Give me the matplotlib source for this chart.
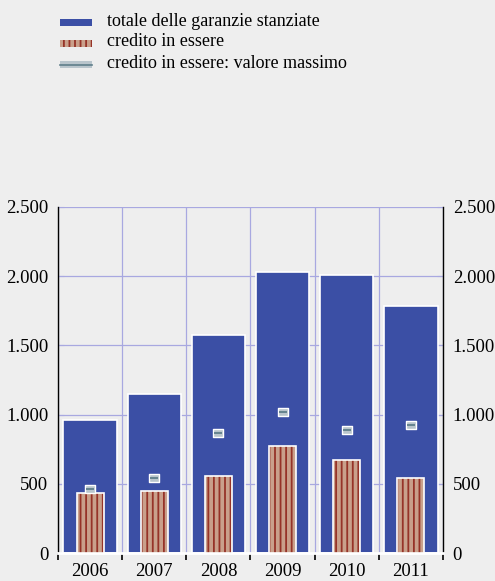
import matplotlib
matplotlib.use("Agg")
import matplotlib.pyplot as plt
from matplotlib.patches import Rectangle
from matplotlib.path import Path
import numpy as np

years = ["2006", "2007", "2008", "2009", "2010", "2011"]
totale = [960, 1150, 1575, 2030, 2010, 1785]
credito = [430, 445, 555, 770, 675, 540]
massimo = [460, 545, 870, 1020, 890, 925]
yticks = [0, 500, 1000, 1500, 2000, 2500]
ylabels = ["0", "500", "1.000", "1.500", "2.000", "2.500"]
legend_labels = ["totale delle garanzie stanziate", "credito in essere",
                 "credito in essere: valore massimo"]

plt.rcParams['font.family'] = ['Liberation Serif', 'DejaVu Serif']
plt.rcParams['hatch.linewidth'] = 1.3

BG = "#eeeeee"
BLUE = "#3b4fa5"
TAN = "#c9a08b"
DRED = "#963328"
GRID = "#a8a8e0"
MK = "#b9c5cc"
MKL = "#5f7f8a"

fig = plt.figure(figsize=(4.95, 5.81), dpi=100, facecolor=BG)
ax = fig.add_axes([58/495, 1-553/581, (443-58)/495, (553-207)/581])
ax.set_facecolor(BG)

x = np.arange(len(years))
ax.bar(x, totale, width=0.83, color=BLUE, edgecolor="white", linewidth=1.2, zorder=2)
ax.bar(x, credito, width=0.42, color=TAN, edgecolor=DRED, hatch="|||", linewidth=0, zorder=3)
ax.bar(x, credito, width=0.42, color="none", edgecolor="white", linewidth=1.2, zorder=4)

rect = Path([(-1, -0.7), (1, -0.7), (1, 0.7), (-1, 0.7), (-1, -0.7)],
            [Path.MOVETO, Path.LINETO, Path.LINETO, Path.LINETO, Path.CLOSEPOLY])
ax.scatter(x, massimo, marker=rect, s=60, facecolor=MK, edgecolor="white", linewidths=1.0, zorder=5)
ax.scatter(x, massimo, marker="_", s=30, color=MKL, linewidths=1.3, zorder=6)

ax.set_xlim(-0.5, len(years) - 0.5)
ax.set_ylim(0, 2500)
ax.set_yticks(yticks)
ax.set_yticklabels(ylabels, fontsize=13.5)
ax.tick_params(axis="y", which="both", left=True, right=True, labelleft=True, labelright=True,
               length=4, color=GRID, direction="in", pad=7)
ax.yaxis.grid(True, color=GRID, linewidth=0.9, zorder=0)

ax.set_xticks(x)
ax.set_xticklabels(years, fontsize=13.5)
ax.tick_params(axis="x", which="major", length=0, pad=7)
ax.set_xticks(np.arange(len(years) + 1) - 0.5, minor=True)
ax.tick_params(axis="x", which="minor", length=5, color="black", width=1.2, direction="out")
ax.xaxis.grid(True, which="minor", color=GRID, linewidth=0.9, zorder=0)
ax.set_axisbelow(True)

for s in ["left", "right"]:
    ax.spines[s].set_color("black")
    ax.spines[s].set_linewidth(1.0)
ax.spines["top"].set_visible(False)
ax.spines["bottom"].set_color("white")
ax.spines["bottom"].set_linewidth(2)

# legend
W, H = 495, 581
def fr(x0, y0, w, h, **kw):
    fig.patches.append(Rectangle((x0/W, 1-(y0+h)/H), w/W, h/H, transform=fig.transFigure, **kw))

fr(60, 19, 32, 7, facecolor=BLUE, edgecolor="none")
fr(60, 40, 32, 7, facecolor=TAN, edgecolor=DRED, hatch="|||", linewidth=0)
fr(60, 61, 32, 7, facecolor=MK, edgecolor="none")
fig.lines.append(plt.Line2D([60/W, 92/W], [1-64.5/H, 1-64.5/H], transform=fig.transFigure,
                            color=MKL, linewidth=1.2))
for i, lab in enumerate(legend_labels):
    fig.text(107/W, 1-(21+21*i)/H, lab, fontsize=13, va="center", ha="left")

fig.savefig("out.png", dpi=100, facecolor=BG)
